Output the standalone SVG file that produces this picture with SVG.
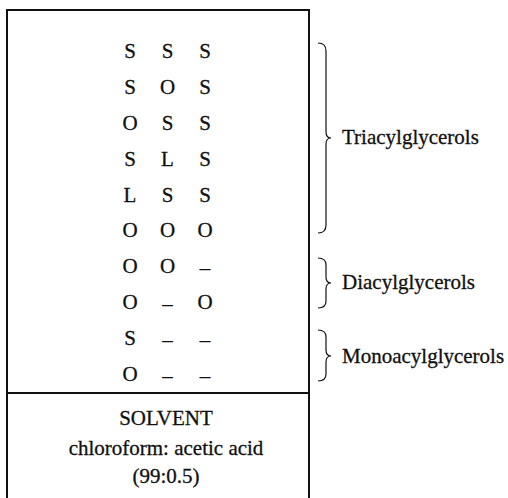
<svg xmlns="http://www.w3.org/2000/svg" width="508" height="498" viewBox="0 0 508 498">
<style>
text{font-family:"Liberation Serif","Times New Roman",serif;font-size:21px;fill:#111;stroke:#111;stroke-width:0.3}
.g text{text-anchor:middle}
.frame{fill:none;stroke:#111;stroke-width:2}
.brace{fill:none;stroke:#111;stroke-width:1.2}
</style>
<rect width="508" height="498" fill="#fff"/>
<g id="plate">
<path class="frame" d="M7,499 V10 H309 V499 M7,393 H309"/>
</g>
<g id="spots" class="g">
<text x="130" y="58">S</text><text x="167.5" y="58">S</text><text x="205" y="58">S</text>
<text x="130" y="94">S</text><text x="167.5" y="94">O</text><text x="205" y="94">S</text>
<text x="130" y="130">O</text><text x="167.5" y="130">S</text><text x="205" y="130">S</text>
<text x="130" y="166">S</text><text x="167.5" y="166">L</text><text x="205" y="166">S</text>
<text x="130" y="202">L</text><text x="167.5" y="202">S</text><text x="205" y="202">S</text>
<text x="130" y="237">O</text><text x="167.5" y="237">O</text><text x="205" y="237">O</text>
<text x="130" y="273">O</text><text x="167.5" y="273">O</text><text x="205" y="275">–</text>
<text x="130" y="309">O</text><text x="167.5" y="311">–</text><text x="205" y="309">O</text>
<text x="130" y="345">S</text><text x="167.5" y="347">–</text><text x="205" y="347">–</text>
<text x="130" y="381">O</text><text x="167.5" y="383">–</text><text x="205" y="383">–</text>
</g>
<g id="solvent" class="g">
<text x="166" y="425">SOLVENT</text>
<text x="166" y="455">chloroform: acetic acid</text>
<text x="166" y="483">(99:0.5)</text>
</g>
<g id="connectors">
<path class="brace" d="M318,43 Q326,43 326,51 V132 Q326,138 331,138 Q326,138 326,144 V225 Q326,233 318,233"/>
<path class="brace" d="M318,258 Q326,258 326,265 V277 Q326,283 331,283 Q326,283 326,289 V301 Q326,308 318,308"/>
<path class="brace" d="M318,330 Q326,330 326,337 V350 Q326,356 331,356 Q326,356 326,362 V374 Q326,381 318,381"/>
</g>
<g id="tri"><text x="342" y="144">Triacylglycerols</text></g>
<g id="di"><text x="342" y="289">Diacylglycerols</text></g>
<g id="mono"><text x="342" y="363">Monoacylglycerols</text></g>
</svg>
